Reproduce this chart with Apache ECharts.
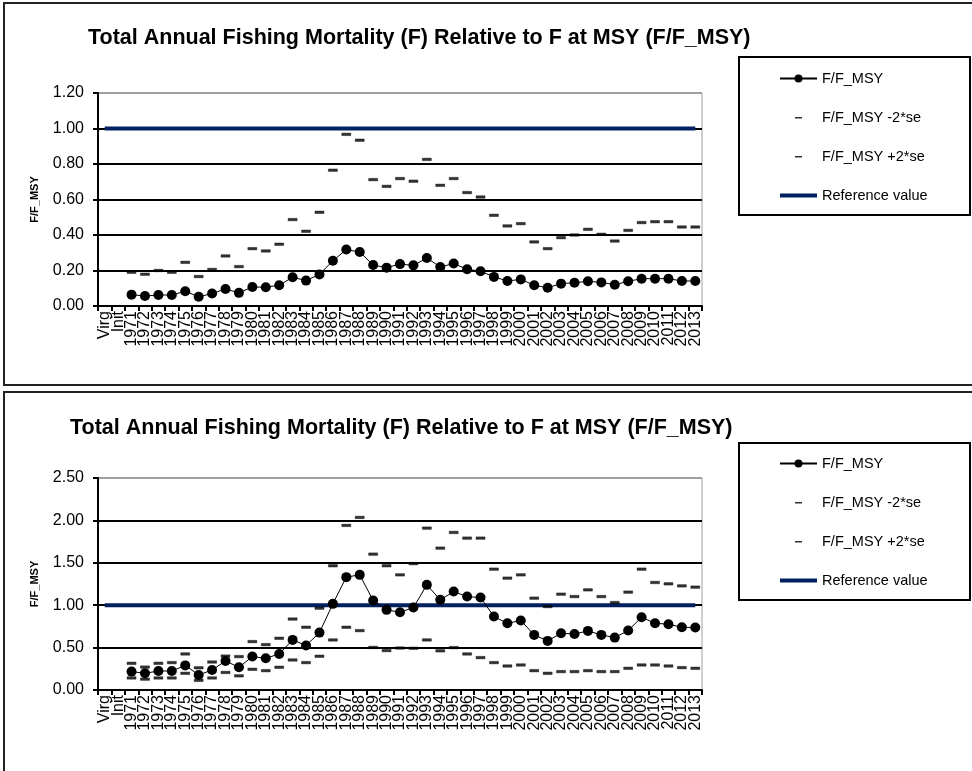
<!DOCTYPE html>
<html>
<head>
<meta charset="utf-8">
<script src="https://cdn.jsdelivr.net/npm/echarts@6/dist/echarts.min.js"></script>
<style>
html,body{margin:0;padding:0;background:#fff;}
#chart{width:972px;height:771px;}
</style>
</head>
<body>
<div id="chart"></div>
<script>
// ---- data ----
const categories = ['Virg','Init','1971','1972','1973','1974','1975','1976','1977','1978','1979','1980',
  '1981','1982','1983','1984','1985','1986','1987','1988','1989','1990','1991','1992','1993','1994',
  '1995','1996','1997','1998','1999','2000','2001','2002','2003','2004','2005','2006','2007','2008',
  '2009','2010','2011','2012','2013'];

const titleText = 'Total Annual Fishing Mortality (F) Relative to F at MSY (F/F_MSY)';
const yAxisName = 'F/F_MSY';
const seriesNames = ['F/F_MSY', 'F/F_MSY -2*se', 'F/F_MSY +2*se', 'Reference value'];

// top panel
const topF = [null,null,0.064,0.056,0.062,0.062,0.083,0.052,0.070,0.096,0.074,0.107,
  0.106,0.117,0.162,0.143,0.178,0.255,0.318,0.304,0.231,0.216,0.236,0.229,0.270,0.220,
  0.239,0.207,0.196,0.164,0.141,0.150,0.117,0.103,0.126,0.131,0.139,0.133,0.120,0.139,
  0.154,0.154,0.154,0.141,0.141];
const topLower = [null,null,null,null,null,null,null,null,null,null,null,null,
  null,null,null,null,null,null,null,null,null,null,null,null,null,null,
  null,null,null,null,null,null,null,null,null,null,null,null,null,null,
  null,null,null,null,null];
const topUpper = [null,null,0.190,0.179,0.200,0.190,0.246,0.166,0.206,0.282,0.222,0.323,
  0.310,0.348,0.487,0.421,0.528,0.765,0.967,0.934,0.712,0.674,0.718,0.703,0.826,0.680,
  0.718,0.639,0.614,0.511,0.451,0.464,0.361,0.323,0.385,0.400,0.432,0.404,0.366,0.426,
  0.470,0.475,0.475,0.445,0.445];
const topRef = [1,1,1,1,1,1,1,1,1,1,1,1,1,1,1,1,1,1,1,1,1,1,1,1,1,1,1,1,1,1,1,1,1,1,1,1,1,1,1,1,1,1,1,1,1];
const topYTicks = {min: 0, max: 1.2, interval: 0.2};

// bottom panel
const botF = [null,null,0.217,0.197,0.224,0.224,0.290,0.177,0.236,0.342,0.268,0.394,
  0.374,0.425,0.591,0.524,0.677,1.016,1.331,1.358,1.055,0.945,0.917,0.972,1.240,1.063,
  1.161,1.102,1.090,0.866,0.787,0.819,0.650,0.579,0.669,0.661,0.697,0.650,0.618,0.701,
  0.858,0.787,0.776,0.740,0.736];
const botLower = [null,null,0.142,0.128,0.142,0.142,0.197,0.114,0.142,0.207,0.167,0.244,
  0.228,0.268,0.354,0.323,0.398,0.590,0.740,0.700,0.502,0.465,0.495,0.492,0.590,0.462,
  0.500,0.425,0.382,0.323,0.283,0.295,0.228,0.197,0.217,0.217,0.228,0.217,0.217,0.256,
  0.295,0.295,0.283,0.264,0.256];
const botUpper = [null,null,0.315,0.270,0.315,0.323,0.425,0.262,0.330,0.400,0.394,0.571,
  0.535,0.610,0.837,0.740,0.965,1.465,1.941,2.035,1.602,1.465,1.358,1.490,1.909,1.673,
  1.858,1.791,1.791,1.425,1.319,1.358,1.083,0.984,1.130,1.102,1.181,1.102,1.031,1.154,
  1.425,1.268,1.252,1.228,1.213];
const botRef = [1,1,1,1,1,1,1,1,1,1,1,1,1,1,1,1,1,1,1,1,1,1,1,1,1,1,1,1,1,1,1,1,1,1,1,1,1,1,1,1,1,1,1,1,1];
const botYTicks = {min: 0, max: 2.5, interval: 0.5};

// ---- chart ----
const FONT = '"Liberation Sans", Arial, sans-serif';
const NAVY = '#002060';
const chart = echarts.init(document.getElementById('chart'), null, {renderer: 'canvas'});

function xAxisCfg(gridIndex) {
  return {
    type: 'category', gridIndex, data: categories, boundaryGap: true,
    axisLine: {show: true, onZero: false, lineStyle: {color: '#000', width: 2}},
    axisTick: {show: true, interval: 0, alignWithLabel: false, length: 5, lineStyle: {color: '#000', width: 2}},
    axisLabel: {interval: 0, rotate: 90, margin: 5, fontSize: 16, color: '#000', fontFamily: FONT},
    splitLine: {show: false}
  };
}
function yAxisCfg(gridIndex, t, nLines) {
  const cols = [];
  for (let i = 0; i < nLines; i++) cols.push(i === nLines - 1 ? '#a0a0a0' : '#000');
  return {
    type: 'value', gridIndex, min: t.min, max: t.max, interval: t.interval,
    name: yAxisName, nameLocation: 'middle', nameGap: 58, nameRotate: 90,
    nameTextStyle: {fontSize: 11, fontWeight: 'bold', color: '#000', fontFamily: FONT},
    axisLine: {show: true, lineStyle: {color: '#000', width: 2}},
    axisTick: {show: true, length: 5, lineStyle: {color: '#000', width: 2}},
    axisLabel: {fontSize: 16, color: '#000', fontFamily: FONT, margin: 14,
      formatter: v => v.toFixed(2)},
    splitLine: {show: true, lineStyle: {color: cols, width: 2}}
  };
}
function seriesFor(idx, F, lo, up, ref) {
  return [
    {name: seriesNames[3], type: 'line', xAxisIndex: idx, yAxisIndex: idx, data: ref,
      symbol: 'none', lineStyle: {color: NAVY, width: 4}, itemStyle: {color: NAVY}, z: 2, silent: true},
    {name: seriesNames[0], type: 'line', xAxisIndex: idx, yAxisIndex: idx, data: F,
      symbol: 'circle', symbolSize: 10, lineStyle: {color: '#000', width: 1},
      itemStyle: {color: '#000'}, z: 4, connectNulls: false},
    {name: seriesNames[1], type: 'scatter', xAxisIndex: idx, yAxisIndex: idx, data: lo,
      symbol: 'rect', symbolSize: [9, 2.5], itemStyle: {color: '#000', borderColor: '#000', borderWidth: 0.4}, z: 3},
    {name: seriesNames[2], type: 'scatter', xAxisIndex: idx, yAxisIndex: idx, data: up,
      symbol: 'rect', symbolSize: [9, 2.5], itemStyle: {color: '#000', borderColor: '#000', borderWidth: 0.4}, z: 3}
  ];
}
function legendCfg(top) {
  return {
    orient: 'vertical', left: 779, top, itemWidth: 37, itemHeight: 10, itemGap: 24,
    selectedMode: false, padding: 0,
    textStyle: {fontSize: 14.5, color: '#000', fontFamily: FONT},
    data: [
      {name: seriesNames[0]},
      {name: seriesNames[1], icon: 'path://M0,0M37,10M15,4.5h7v1.5h-7z', itemStyle: {borderWidth: 0}},
      {name: seriesNames[2], icon: 'path://M0,0M37,10M15,4.5h7v1.5h-7z', itemStyle: {borderWidth: 0}},
      {name: seriesNames[3], icon: 'path://M0,0M37,10M0,3h37v4h-37z', itemStyle: {color: NAVY}}
    ]
  };
}

const option = {
  animation: false,
  backgroundColor: '#fff',
  title: [
    {text: titleText, left: 88, top: 27, padding: 0,
      textStyle: {fontSize: 21.5, fontWeight: 'bold', color: '#000', fontFamily: FONT}},
    {text: titleText, left: 70, top: 417, padding: 0,
      textStyle: {fontSize: 21.5, fontWeight: 'bold', color: '#000', fontFamily: FONT}}
  ],
  legend: [legendCfg(71), legendCfg(456)],
  grid: [
    {left: 98, top: 93, width: 604, height: 213, show: true, borderColor: '#a0a0a0', borderWidth: 1, backgroundColor: 'transparent'},
    {left: 98, top: 478, width: 604, height: 212, show: true, borderColor: '#a0a0a0', borderWidth: 1, backgroundColor: 'transparent'}
  ],
  xAxis: [xAxisCfg(0), xAxisCfg(1)],
  yAxis: [yAxisCfg(0, topYTicks, 7), yAxisCfg(1, botYTicks, 6)],
  series: [].concat(seriesFor(0, topF, topLower, topUpper, topRef), seriesFor(1, botF, botLower, botUpper, botRef)),
  graphic: [
    {type: 'rect', shape: {x: 4, y: 3, width: 990, height: 382}, style: {fill: 'none', stroke: '#222', lineWidth: 2}, silent: true, z: -1},
    {type: 'rect', shape: {x: 4, y: 392, width: 990, height: 400}, style: {fill: 'none', stroke: '#222', lineWidth: 2}, silent: true, z: -1},
    {type: 'rect', shape: {x: 739, y: 57, width: 231, height: 158}, style: {fill: 'none', stroke: '#000', lineWidth: 2}, silent: true, z: -1},
    {type: 'rect', shape: {x: 739, y: 443, width: 231, height: 157}, style: {fill: 'none', stroke: '#000', lineWidth: 2}, silent: true, z: -1}
  ]
};
chart.setOption(option);
</script>
</body>
</html>
